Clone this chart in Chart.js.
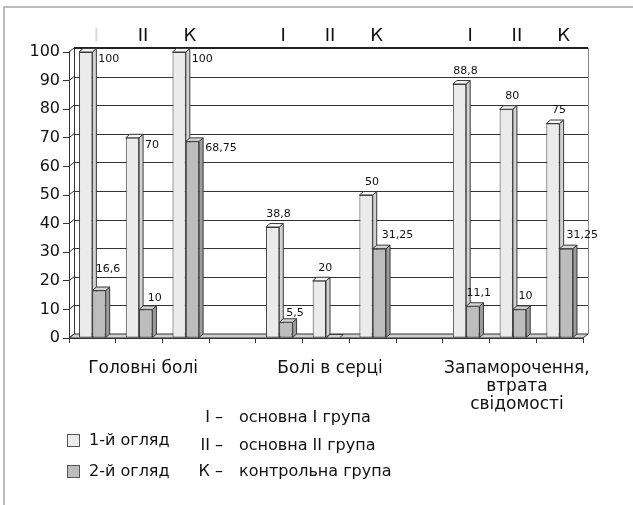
<!DOCTYPE html>
<html lang="uk">
<head>
<meta charset="UTF-8">
<title>Скарги пацієнтів</title>
<style>
  body { margin: 0; background: #fff; }
  canvas { display: block; }
</style>
</head>
<body>
<canvas id="complaintsChart" width="633" height="505"></canvas>
<script src="https://cdn.jsdelivr.net/npm/chart.js"></script>
<script>
// підгрупи над кожною колонкою (порожні — проміжки між скаргами)
const groupMarks = ['I', 'II', 'К', '', 'I', 'II', 'К', '', 'I', 'II', 'К'];
const firstVisit = [100, 70, 100, null, 38.8, 20, 50, null, 88.8, 80, 75];
const secondVisit = [16.6, 10, 68.75, null, 5.5, 0, 31.25, null, 11.1, 10, 31.25];
const complaints = ['Головні болі', 'Болі в серці', ['Запаморочення,', 'втрата', 'свідомості']];
const complaintSlots = [1, 5, 9];
const seriesNames = ['1-й огляд', '2-й огляд'];
const groupKey = [['I –', 'основна I група'], ['II –', 'основна II група'], ['К –', 'контрольна група']];
const yMin = 0, yMax = 100, yStep = 10;

const FONT = 'DejaVu Sans';
const wall = { dx: 5, dy: 4 };
const depth = { dx: 4, dy: 3.5 };
const faces = [
    { front: '#ebebeb', side: '#d2d2d2', top: '#f6f6f6' },
    { front: '#bdbdbd', side: '#9b9b9b', top: '#d4d4d4' }
];

function poly(ctx, pts, fill) {
    ctx.beginPath();
    ctx.moveTo(pts[0][0], pts[0][1]);
    for (let i = 1; i < pts.length; i++) ctx.lineTo(pts[i][0], pts[i][1]);
    ctx.closePath();
    if (fill) { ctx.fillStyle = fill; ctx.fill(); }
    ctx.stroke();
}

function line(ctx, x1, y1, x2, y2) {
    ctx.beginPath();
    ctx.moveTo(x1, y1);
    ctx.lineTo(x2, y2);
    ctx.stroke();
}

// піксельне вирівнювання для тонких ліній
const crisp = v => Math.round(v) + 0.5;

// бічна та верхня грані стовпчиків
function drawDepth(chart, ds) {
    const ctx = chart.ctx;
    const meta = chart.getDatasetMeta(ds);
    const col = faces[ds];
    ctx.save();
    ctx.strokeStyle = '#3a3a3a';
    ctx.lineWidth = 1;
    meta.data.forEach((bar, i) => {
        if (chart.data.datasets[ds].data[i] == null) return;
        const { x, y, base, width } = bar.getProps(['x', 'y', 'base', 'width'], true);
        const l = x - width / 2, r = x + width / 2;
        if (base - y > 0.5) {
            poly(ctx, [[r, y], [r + depth.dx, y - depth.dy], [r + depth.dx, base - depth.dy], [r, base]], col.side);
        }
        poly(ctx, [[l, y], [l + depth.dx, y - depth.dy], [r + depth.dx, y - depth.dy], [r, y]], col.top);
    });
    ctx.restore();
}

// підписи значень: частина збоку, решта над стовпчиком
const sideLabels = ['0:0', '0:1', '0:2', '1:2'];
const labelNudge = { '1:0': [9, -21], '1:1': [9, -11.5], '1:4': [9, -9], '1:6': [18, -13], '1:10': [16, -13] };

function drawValues(chart) {
    const ctx = chart.ctx;
    ctx.save();
    ctx.font = '11px "' + FONT + '"';
    ctx.fillStyle = '#111';
    ctx.textBaseline = 'middle';
    chart.data.datasets.forEach((dataset, ds) => {
        chart.getDatasetMeta(ds).data.forEach((bar, i) => {
            const v = dataset.data[i];
            if (v == null || v === 0) return;
            const { x, y, width } = bar.getProps(['x', 'y', 'width'], true);
            const text = String(v).replace('.', ',');
            const key = ds + ':' + i;
            if (sideLabels.includes(key)) {
                ctx.textAlign = 'left';
                ctx.fillText(text, x + width / 2 + depth.dx + 2, y + 7);
            } else {
                const n = labelNudge[key] || [6, -13];
                ctx.textAlign = 'center';
                ctx.fillText(text, x + n[0], y + n[1]);
            }
        });
    });
    ctx.restore();
}

const depthPlugin = {
    id: 'depth3d',
    beforeDraw(chart) {
        const ctx = chart.ctx;
        ctx.save();
        ctx.strokeStyle = '#a8a8a8';
        ctx.lineWidth = 1.5;
        ctx.beginPath();
        ctx.moveTo(4, 505);
        ctx.lineTo(4, 7);
        ctx.lineTo(633, 7);
        ctx.stroke();
        ctx.restore();
    },
    beforeDatasetsDraw(chart) {
        const ctx = chart.ctx;
        const { left, right, top, bottom } = chart.chartArea;
        const ys = chart.scales.y;
        ctx.save();
        ctx.strokeStyle = '#333';
        ctx.lineWidth = 1;
        // підлога
        poly(ctx, [[left, bottom], [left + wall.dx, bottom - wall.dy], [right + wall.dx, bottom - wall.dy], [right, bottom]], '#d0d0d0');
        // сітка на задній стінці та ліва стінка
        for (let v = yMin; v <= yMax; v += yStep) {
            const y = ys.getPixelForValue(v);
            line(ctx, left, y, left + wall.dx, y - wall.dy);
            if (v > yMin && v < yMax) {
                const yb = crisp(y - wall.dy);
                line(ctx, left + wall.dx, yb, right + wall.dx, yb);
            }
        }
        line(ctx, crisp(left + wall.dx), top - wall.dy, crisp(left + wall.dx), bottom - wall.dy);
        ctx.strokeStyle = '#888';
        line(ctx, crisp(right + wall.dx), top - wall.dy, crisp(right + wall.dx), bottom - wall.dy);
        ctx.strokeStyle = '#222';
        ctx.lineWidth = 2;
        line(ctx, left + wall.dx, Math.round(top - wall.dy), right + wall.dx, Math.round(top - wall.dy));
        ctx.restore();
        drawDepth(chart, 0);
    },
    afterDatasetsDraw(chart) {
        drawDepth(chart, 1);
        drawValues(chart);
    },
    afterDraw(chart) {
        const ctx = chart.ctx;
        ctx.save();
        ctx.font = '16px "' + FONT + '"';
        ctx.textBaseline = 'middle';
        ctx.fillStyle = '#111';
        // легенда оглядів
        const boxY = [434, 465];
        chart.data.datasets.forEach((ds, i) => {
            ctx.fillStyle = ds.backgroundColor;
            ctx.strokeStyle = '#555';
            ctx.lineWidth = 1;
            ctx.fillRect(67.5, boxY[i] + 0.5, 12, 12);
            ctx.strokeRect(67.5, boxY[i] + 0.5, 12, 12);
            ctx.fillStyle = '#111';
            ctx.textAlign = 'left';
            ctx.fillText(ds.label, 89, boxY[i] + 7);
        });
        // позначення груп
        const keyY = [418, 446, 472];
        groupKey.forEach((row, i) => {
            ctx.textAlign = 'right';
            ctx.fillText(row[0], 223, keyY[i]);
            ctx.textAlign = 'left';
            ctx.fillText(row[1], 239, keyY[i]);
        });
        ctx.restore();
    }
};

new Chart(document.getElementById('complaintsChart'), {
    type: 'bar',
    data: {
        labels: groupMarks,
        datasets: [
            {
                label: seriesNames[0],
                data: firstVisit,
                backgroundColor: faces[0].front,
                borderColor: '#3a3a3a',
                borderWidth: 1,
                borderSkipped: false
            },
            {
                label: seriesNames[1],
                data: secondVisit,
                backgroundColor: faces[1].front,
                borderColor: '#3a3a3a',
                borderWidth: 1,
                borderSkipped: false
            }
        ]
    },
    options: {
        responsive: false,
        animation: false,
        layout: { padding: { left: 4, right: 50, top: 0, bottom: 77 } },
        datasets: { bar: { categoryPercentage: 0.57, barPercentage: 1.0 } },
        plugins: {
            legend: { display: false },
            tooltip: { enabled: false }
        },
        scales: {
            x: {
                position: 'top',
                offset: true,
                grid: { display: false, drawTicks: false },
                border: { display: false },
                ticks: {
                    font: { family: FONT, size: 18 },
                    color: c => c.index === 0 ? '#d6d6d6' : '#111',
                    padding: 5,
                    labelOffset: 4,
                    autoSkip: false,
                    maxRotation: 0
                },
                afterFit: s => { s.height = 52; }
            },
            xb: {
                type: 'category',
                position: 'bottom',
                offset: true,
                grid: { offset: true, drawOnChartArea: false, tickLength: 5, color: '#333' },
                border: { display: true, color: '#333' },
                ticks: {
                    callback: (v, i) => {
                        const k = complaintSlots.indexOf(i);
                        return k < 0 ? '' : complaints[k];
                    },
                    font: { family: FONT, size: 17, lineHeight: 1.05 },
                    color: '#111',
                    padding: 17,
                    labelOffset: 4,
                    autoSkip: false,
                    maxRotation: 0
                },
                afterFit: s => { s.height = 90; }
            },
            y: {
                min: yMin,
                max: yMax,
                ticks: {
                    stepSize: yStep,
                    font: { family: FONT, size: 16 },
                    color: '#111',
                    padding: 3
                },
                grid: { drawOnChartArea: false, tickLength: 6, color: '#333' },
                border: { color: '#333' },
                afterFit: s => { s.width = 65; }
            }
        }
    },
    plugins: [depthPlugin]
});
</script>
</body>
</html>
